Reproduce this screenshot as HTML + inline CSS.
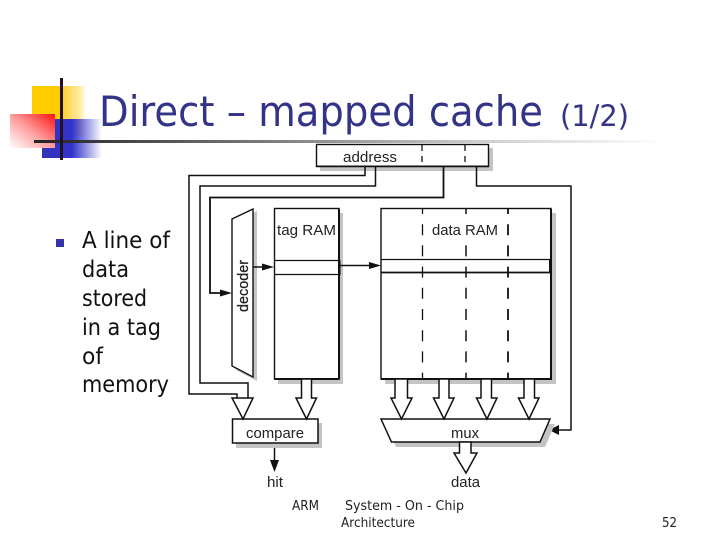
<!DOCTYPE html>
<html>
<head>
<meta charset="utf-8">
<style>
html,body{margin:0;padding:0;background:#fff;width:720px;height:540px;overflow:hidden}
svg{display:block}
.d{font-family:"Liberation Sans",sans-serif;font-size:14.5px;fill:#222}
.b{font-family:"DejaVu Sans",sans-serif;font-size:23px;fill:#111}
.f{font-family:"DejaVu Sans",sans-serif;font-size:13px;fill:#222}
</style>
</head>
<body>
<svg width="720" height="540" viewBox="0 0 720 540" xmlns="http://www.w3.org/2000/svg">
<defs>
<linearGradient id="gy" x1="0" x2="1" y1="0" y2="0"><stop offset="0" stop-color="#ffcc00"/><stop offset=".5" stop-color="#ffcc00"/><stop offset=".75" stop-color="#ffe080"/><stop offset="1" stop-color="#ffcc00" stop-opacity="0"/></linearGradient>
<linearGradient id="gb" x1="0" x2="1" y1="0" y2="0"><stop offset="0" stop-color="#3333bb"/><stop offset=".5" stop-color="#3333cc"/><stop offset="1" stop-color="#3333cc" stop-opacity="0"/></linearGradient>
<linearGradient id="gr" x1="1" x2="0" y1="0" y2="1"><stop offset="0" stop-color="#ff1111"/><stop offset=".5" stop-color="#ff9c9c"/><stop offset="1" stop-color="#ffffff"/></linearGradient>
<linearGradient id="gl" x1="0" x2="1" y1="0" y2="0"><stop offset="0" stop-color="#222"/><stop offset=".35" stop-color="#777"/><stop offset=".7" stop-color="#ccc"/><stop offset="1" stop-color="#fff"/></linearGradient>
</defs>

<!-- logo -->
<rect x="32" y="86" width="54" height="50" fill="url(#gy)"/>
<rect x="42" y="119" width="60" height="39" fill="url(#gb)"/>
<rect x="10" y="114" width="45" height="34" fill="url(#gr)"/>
<rect x="34" y="140" width="630" height="3" fill="url(#gl)"/>
<rect x="60" y="78" width="3" height="82" fill="#221122"/>

<!-- title -->
<text x="99" y="126" font-family="'DejaVu Sans',sans-serif" font-size="42" fill="#333388" textLength="444" lengthAdjust="spacingAndGlyphs">Direct – mapped cache</text>
<text x="560" y="126" font-family="'DejaVu Sans',sans-serif" font-size="29" fill="#333388" textLength="69" lengthAdjust="spacingAndGlyphs">(1/2)</text>

<!-- bullet text -->
<rect x="56" y="239" width="8" height="8" fill="#3333aa"/>
<text class="b" x="82" y="248" textLength="88" lengthAdjust="spacingAndGlyphs">A line of</text>
<text class="b" x="82" y="277" textLength="47" lengthAdjust="spacingAndGlyphs">data</text>
<text class="b" x="82" y="306" textLength="65" lengthAdjust="spacingAndGlyphs">stored</text>
<text class="b" x="82" y="335" textLength="79" lengthAdjust="spacingAndGlyphs">in a tag</text>
<text class="b" x="82" y="364" textLength="21" lengthAdjust="spacingAndGlyphs">of</text>
<text class="b" x="82" y="392" textLength="87" lengthAdjust="spacingAndGlyphs">memory</text>

<!-- shadows -->
<g fill="#c4c4c4">
<rect x="320" y="148" width="173" height="23"/>
<polygon points="236,221 257,211 257,381 236,370"/>
<rect x="278" y="213" width="65" height="171"/>
<rect x="385" y="213" width="171" height="171"/>
</g>

<!-- boxes -->
<g fill="#fff" stroke="#111" stroke-width="1.400">
<rect x="316.500" y="144.500" width="172" height="22"/>
<polygon points="232,219 253,209 253,377 232,366"/>
<rect x="274.500" y="208.500" width="64.500" height="170.500"/>
<rect x="381" y="208.500" width="170" height="170.500"/>
</g>
<rect x="338" y="209" width="2" height="170" fill="#111"/>
<rect x="550" y="209" width="2" height="170" fill="#111"/>
<rect x="274.500" y="378" width="65" height="2" fill="#111"/>
<rect x="381" y="378" width="171" height="2" fill="#111"/>
<rect x="317" y="165.500" width="172" height="1.600" fill="#111"/>

<!-- rows -->
<g fill="none" stroke="#111" stroke-width="1.300">
<path d="M274.500 260.500H339M274.500 274.500H339"/>
<path d="M381 259.500H551"/>
</g>
<path d="M381 272.500H551" stroke="#111" stroke-width="1.800" fill="none"/>
<rect x="549" y="259" width="3" height="14" fill="#111"/>
<rect x="338" y="260" width="2.500" height="15" fill="#111"/>

<!-- dashed -->
<g stroke="#111" fill="none" stroke-dasharray="11 10.200" stroke-dashoffset="6">
<path d="M422.500 209V379" stroke-width="1.300"/>
<path d="M466 209V379" stroke-width="1.500"/>
<path d="M508 209V379" stroke-width="1.800"/>
</g>
<rect x="464" y="222" width="4" height="15" fill="#fff"/>
<g stroke="#111" stroke-width="1.300" fill="none" stroke-dasharray="6 5">
<path d="M422 145V166"/>
<path d="M465 145V166"/>
</g>

<!-- wires -->
<g fill="none" stroke="#111" stroke-width="1.500">
<path d="M365 166V175.500H189V394H237V398"/>
<path d="M375.500 166V186H200V383H248V398"/>
<path d="M443.500 166V197.500H210V293H222" stroke-width="1.800"/>
<path d="M476.500 166V186H571V430H558"/>
<path d="M253 267H266"/>
<path d="M339 265.500H370"/>
<path d="M274.500 443V462"/>
</g>
<g fill="#111">
<polygon points="232,293 220,289.500 220,296.500"/>
<polygon points="274,267 262,263.500 262,270.500"/>
<polygon points="381,265.500 369,262 369,269"/>
<polygon points="274.500,472 270,460 279,460"/>
<polygon points="549,430 559,425 559,435"/>
</g>

<!-- compare and mux -->
<rect x="236" y="423" width="86" height="25" fill="#c4c4c4"/>
<polygon points="386,424 555,424 545,447 396,447" fill="#c4c4c4"/>
<rect x="232.500" y="419" width="85.500" height="24" fill="#fff" stroke="#111" stroke-width="1.500"/>
<polygon points="381,419 550,419 540,442 391.500,442" fill="#fff" stroke="#111" stroke-width="1.500"/>

<!-- block arrows -->
<g fill="#fff" stroke="#111" stroke-width="1.500" stroke-linejoin="miter">
<polygon points="237,398 232,398 243,419 253,398 248,398"/>
<polygon points="301.500,379 301.500,398 296,398 306.500,419 316.500,398 311.500,398 311.500,379"/>
<polygon points="395,379 395,398 391,398 401.500,419 412,398 407.500,398 407.500,379"/>
<polygon points="439,379 439,398 433.500,398 444,419 454,398 449,398 449,379"/>
<polygon points="481,379 481,398 476.500,398 487,419 497,398 491.500,398 491.500,379"/>
<polygon points="524,379 524,398 518.500,398 529,419 539,398 534.500,398 534.500,379"/>
<polygon points="459.500,442 459.500,453 454,453 466,473 477,453 471,453 471,442"/>
</g>

<!-- diagram labels -->
<text class="d" x="343" y="162" textLength="54" lengthAdjust="spacingAndGlyphs">address</text>
<text class="d" x="277" y="235" textLength="59" lengthAdjust="spacingAndGlyphs">tag RAM</text>
<text class="d" x="432" y="235" textLength="66" lengthAdjust="spacingAndGlyphs">data RAM</text>
<text class="d" transform="translate(248,312) rotate(-90)" textLength="52" lengthAdjust="spacingAndGlyphs" stroke="#222" stroke-width=".3">decoder</text>
<text class="d" x="246" y="438" textLength="58" lengthAdjust="spacingAndGlyphs">compare</text>
<text class="d" x="451" y="438" textLength="28" lengthAdjust="spacingAndGlyphs">mux</text>
<text class="d" x="267" y="487" textLength="16" lengthAdjust="spacingAndGlyphs">hit</text>
<text class="d" x="451" y="487" textLength="29" lengthAdjust="spacingAndGlyphs">data</text>

<!-- footer -->
<text class="f" x="292" y="510" textLength="27" lengthAdjust="spacingAndGlyphs">ARM</text>
<text class="f" x="345" y="510" textLength="119" lengthAdjust="spacingAndGlyphs">System - On - Chip</text>
<text class="f" x="341" y="527" textLength="74" lengthAdjust="spacingAndGlyphs">Architecture</text>
<text class="f" x="662" y="527" textLength="15" lengthAdjust="spacingAndGlyphs">52</text>
</svg>
</body>
</html>
